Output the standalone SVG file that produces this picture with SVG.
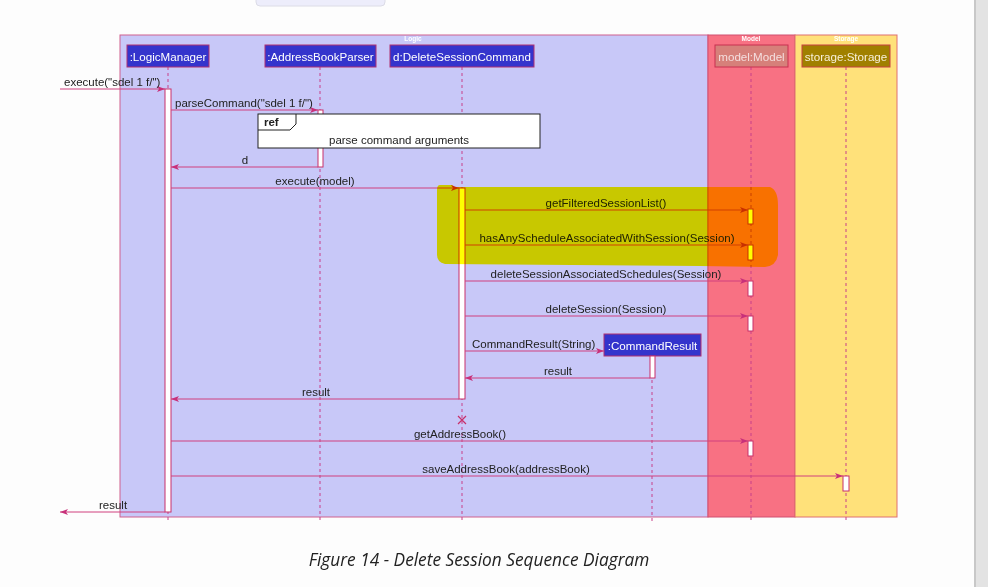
<svg xmlns="http://www.w3.org/2000/svg" width="988" height="587" viewBox="0 0 988 587">
<defs>
<marker id="ah" markerWidth="8" markerHeight="6" refX="8" refY="3" orient="auto" markerUnits="userSpaceOnUse">
<path d="M0,0 L8,3 L0,6 L2,3 Z" fill="#c8307a"/>
</marker>
</defs>
<style>
.lbl{font-family:"Liberation Sans",Arial,sans-serif;font-size:11.5px;fill:#222}
.hdr{font-family:"Liberation Sans",Arial,sans-serif;font-size:11.6px;fill:#ffffff;text-anchor:middle}
.ptitle{font-family:"Liberation Sans",Arial,sans-serif;font-size:6.5px;font-weight:bold;fill:#ffffff;text-anchor:middle}
.life{stroke:#c8408a;stroke-width:1;stroke-dasharray:3,3;fill:none}
.msg{stroke:#d0407e;stroke-width:1;fill:none;marker-end:url(#ah)}
.act{fill:#ffffff;stroke:#c8306a;stroke-width:1}
.mid{text-anchor:middle}
</style>
<rect x="0" y="0" width="988" height="587" fill="#fdfdfd"/>
<rect x="256" y="-6" width="129" height="12" rx="4" fill="#ededfb" stroke="#dcdce6"/>
<rect x="974" y="0" width="14" height="587" fill="#e3e3e3"/>
<rect x="974" y="0" width="2" height="587" fill="#c8c8c8"/>

<g id="box-logic">
<rect x="120" y="35" width="588" height="482" fill="#c8c8f8" stroke="#d0608e"/>
<text class="ptitle" x="413" y="41">Logic</text>
</g>
<g id="box-model">
<rect x="708" y="35" width="87" height="482" fill="#f87183" stroke="#d05070"/>
<text class="ptitle" x="751" y="41">Model</text>
</g>
<g id="box-storage">
<rect x="795" y="35" width="102" height="482" fill="#ffe17a" stroke="#e07070"/>
<text class="ptitle" x="846" y="41">Storage</text>
</g>

<g id="lifelines">
<line class="life" x1="168" y1="67" x2="168" y2="521"/>
<line class="life" x1="320" y1="67" x2="320" y2="521"/>
<line class="life" x1="462" y1="67" x2="462" y2="521"/>
<line class="life" x1="751" y1="67" x2="751" y2="521"/>
<line class="life" x1="846" y1="67" x2="846" y2="521"/>
<line class="life" x1="652" y1="356" x2="652" y2="521"/>
</g>

<g id="LogicManager">
<rect x="127" y="45" width="82" height="22" fill="#3434cc" stroke="#b03070"/>
<text class="hdr" x="168" y="61">:LogicManager</text>
<rect class="act" x="165" y="89" width="6" height="423"/>
</g>
<g id="AddressBookParser">
<rect x="265" y="45" width="111" height="22" fill="#3434cc" stroke="#b03070"/>
<text class="hdr" x="320.5" y="61">:AddressBookParser</text>
<rect class="act" x="318" y="110" width="5" height="57"/>
</g>
<g id="DeleteSessionCommand">
<rect x="390" y="45" width="144" height="22" fill="#3434cc" stroke="#b03070"/>
<text class="hdr" x="462" y="61">d:DeleteSessionCommand</text>
<rect class="act" x="459" y="188" width="6" height="211"/>
</g>
<g id="Model">
<rect x="715" y="45" width="73" height="22" fill="#d6807a" stroke="#c83050"/>
<text class="hdr" x="751.5" y="61" style="fill:#f4dede">model:Model</text>
<rect class="act" x="748" y="209" width="5" height="15"/>
<rect class="act" x="748" y="245" width="5" height="15"/>
<rect class="act" x="748" y="281" width="5" height="15"/>
<rect class="act" x="748" y="316" width="5" height="15"/>
<rect class="act" x="748" y="441" width="5" height="15"/>
</g>
<g id="Storage">
<rect x="802" y="45" width="88" height="22" fill="#a08000" stroke="#c84040"/>
<text class="hdr" x="846" y="61" style="fill:#f8f0d8">storage:Storage</text>
<rect class="act" x="843" y="476" width="6" height="15"/>
</g>
<g id="CommandResult">
<rect x="604" y="334" width="97" height="22" fill="#3434cc" stroke="#b03070"/>
<text class="hdr" x="652.5" y="350">:CommandResult</text>
<rect class="act" x="650" y="356" width="5" height="22"/>
</g>

<g id="ref">
<rect x="258" y="114" width="282" height="34" fill="#ffffff" stroke="#222"/>
<path d="M258,130 L290,130 L296,124 L296,114" fill="none" stroke="#222"/>
<text class="lbl" x="264" y="126" style="font-weight:bold">ref</text>
<text class="lbl mid" x="399" y="144">parse command arguments</text>
</g>

<g id="connectors">
<line class="msg" x1="60" y1="89" x2="165" y2="89"/>
<text class="lbl" x="64" y="86">execute("sdel 1 f/")</text>
<line class="msg" x1="171" y1="110" x2="318" y2="110"/>
<text class="lbl" x="175" y="107">parseCommand("sdel 1 f/")</text>
<line class="msg" x1="318" y1="167" x2="171" y2="167"/>
<text class="lbl mid" x="245" y="164">d</text>
<line class="msg" x1="171" y1="188" x2="459" y2="188"/>
<text class="lbl mid" x="315" y="185">execute(model)</text>
<line class="msg" x1="465" y1="210" x2="748" y2="210"/>
<text class="lbl mid" x="606" y="207">getFilteredSessionList()</text>
<line class="msg" x1="465" y1="245" x2="748" y2="245"/>
<text class="lbl mid" x="607" y="242">hasAnyScheduleAssociatedWithSession(Session)</text>
<line class="msg" x1="465" y1="281" x2="748" y2="281"/>
<text class="lbl mid" x="606" y="278">deleteSessionAssociatedSchedules(Session)</text>
<line class="msg" x1="465" y1="316" x2="748" y2="316"/>
<text class="lbl mid" x="606" y="313">deleteSession(Session)</text>
<line class="msg" x1="465" y1="351" x2="604" y2="351"/>
<text class="lbl" x="472" y="348">CommandResult(String)</text>
<line class="msg" x1="650" y1="378" x2="465" y2="378"/>
<text class="lbl mid" x="558" y="375">result</text>
<line class="msg" x1="459" y1="399" x2="171" y2="399"/>
<text class="lbl mid" x="316" y="396">result</text>
<path d="M458,416 L466,424 M466,416 L458,424" stroke="#c8306a" stroke-width="1.2"/>
<line class="msg" x1="171" y1="441" x2="748" y2="441"/>
<text class="lbl mid" x="460" y="438">getAddressBook()</text>
<line class="msg" x1="171" y1="476" x2="843" y2="476"/>
<text class="lbl mid" x="506" y="473">saveAddressBook(addressBook)</text>
<line class="msg" x1="165" y1="512" x2="60" y2="512"/>
<text class="lbl" x="99" y="509">result</text>
</g>

<path id="highlight" d="M440,185 L452,185 L455,187 L770,187 Q778,190 778,205 L778,255 Q776,266 765,267 L700,266 L445,264 Q437,262 437,255 L437,190 Q437,185 440,185 Z" fill="#ffff00" style="mix-blend-mode:multiply"/>

<text x="479" y="566" text-anchor="middle" style="font-family:'Open Sans','Noto Sans',sans-serif;font-style:italic;font-size:17.3px;fill:#222">Figure 14 - Delete Session Sequence Diagram</text>
</svg>
